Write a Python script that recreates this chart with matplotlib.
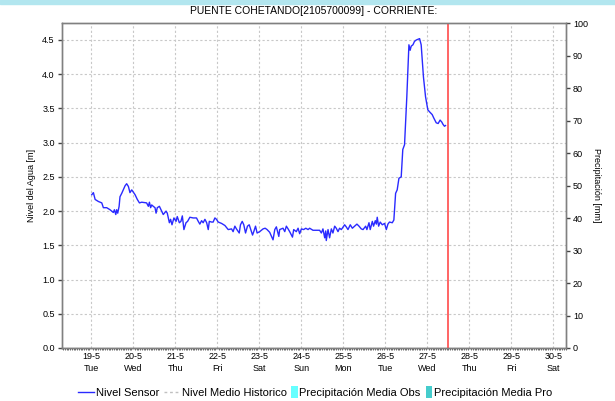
import matplotlib
matplotlib.use("Agg")
import matplotlib.pyplot as plt
import matplotlib.dates as mdates
import pandas as pd
from matplotlib.lines import Line2D
from matplotlib.patches import Patch, Rectangle
from matplotlib.legend_handler import HandlerPatch
from matplotlib.ticker import FuncFormatter

plt.rcParams["font.family"] = ["Liberation Sans", "DejaVu Sans"]

# --- data -------------------------------------------------------------
station = "PUENTE COHETANDO[2105700099] - CORRIENTE:"
start = pd.Timestamp("2020-05-19 00:00")
view_from_h = -16.8          # hours relative to 19-5 00:00
view_to_h = 271.2
now_h = 203.7                # current-time marker

sensor_hours = [
    0.4, 1.3, 2.3, 4.2, 6.1, 7.0, 8.9, 10.8, 12.7, 13.3, 14.1, 14.6, 15.2, 16.0,
    16.5, 17.5, 19.4, 20.3, 21.3, 22.2, 23.2, 25.1, 26.4, 27.6, 28.9, 31.7, 32.7,
    33.3, 34.0, 34.6, 35.5, 36.5, 37.1, 37.8, 39.0, 40.3, 41.2, 42.8, 43.5, 44.7,
    45.4, 46.2, 47.3, 48.5, 49.2, 50.4, 51.3, 52.1, 53.0, 54.2, 55.1, 56.4, 58.3,
    60.2, 61.2, 62.1, 63.1, 64.0, 65.0, 66.0, 66.9, 67.5, 68.8, 69.7, 70.7, 71.6,
    72.6, 74.5, 76.4, 78.3, 80.2, 81.1, 82.1, 83.0, 84.6, 85.3, 86.3, 87.2, 88.2,
    89.3, 90.3, 91.2, 92.2, 92.9, 93.9, 94.8, 96.3, 98.2, 99.4, 100.5, 102.0,
    103.0, 103.9, 104.9, 105.8, 107.2, 107.7, 109.6, 110.6, 111.5, 112.5, 113.4,
    115.0, 115.7, 117.2, 118.2, 119.1, 120.1, 121.4, 122.6, 123.9, 124.8, 126.7,
    128.6, 130.5, 131.5, 132.4, 133.4, 134.0, 134.3, 135.3, 136.2, 137.2, 138.1,
    139.1, 140.0, 141.0, 141.9, 142.9, 144.8, 145.7, 146.7, 148.0, 149.2, 150.5,
    151.8, 153.0, 154.3, 155.3, 156.8, 157.5, 158.7, 159.4, 160.6, 161.3, 162.3,
    162.9, 163.4, 164.2, 165.1, 166.3, 167.6, 168.6, 169.5, 170.4, 172.0, 172.9,
    173.9, 174.8, 175.8, 177.1, 178.0, 179.0, 179.6, 180.3, 180.9, 181.5, 182.2,
    182.8, 183.8, 184.7, 185.7, 186.6, 187.6, 188.5, 189.1, 189.8, 191.0, 192.3,
    193.3, 194.8, 195.7, 197.1, 198.2, 199.3, 200.3, 200.9, 201.8, 202.4,
]
sensor_level = [
    2.24, 2.27, 2.17, 2.14, 2.12, 2.05, 2.05, 2.02, 1.98, 2.02, 1.95, 2.02, 1.97, 2.07,
    2.21, 2.26, 2.37, 2.40, 2.36, 2.27, 2.31, 2.24, 2.17, 2.12, 2.13, 2.12, 2.07,
    2.13, 2.05, 2.09, 2.07, 2.05, 1.97, 2.05, 2.07, 2.00, 1.95, 2.00, 1.97, 1.83,
    1.88, 1.80, 1.90, 1.85, 1.92, 1.83, 1.85, 1.93, 1.73, 1.83, 1.85, 1.91, 1.90,
    1.90, 1.85, 1.81, 1.86, 1.83, 1.88, 1.83, 1.73, 1.85, 1.84, 1.84, 1.90, 1.88,
    1.84, 1.82, 1.79, 1.73, 1.74, 1.70, 1.78, 1.74, 1.68, 1.80, 1.85, 1.80, 1.68,
    1.78, 1.80, 1.73, 1.65, 1.70, 1.78, 1.68, 1.70, 1.74, 1.75, 1.73, 1.69,
    1.63, 1.58, 1.73, 1.77, 1.63, 1.73, 1.75, 1.70, 1.78, 1.74, 1.70,
    1.62, 1.73, 1.70, 1.75, 1.67, 1.74, 1.73, 1.75, 1.73, 1.75, 1.72,
    1.72, 1.72, 1.68, 1.74, 1.61, 1.71, 1.57, 1.73, 1.61, 1.74, 1.68,
    1.78, 1.75, 1.70, 1.75, 1.73, 1.80, 1.77, 1.73, 1.80, 1.75, 1.78,
    1.81, 1.78, 1.74, 1.73, 1.78, 1.73, 1.83, 1.73, 1.85, 1.78, 1.86,
    1.81, 1.91, 1.78, 1.84, 1.80, 1.82, 1.73, 1.81, 1.84, 1.83, 1.87,
    2.26, 2.31, 2.48, 2.50, 2.90, 2.97, 3.29, 3.67, 4.06, 4.43, 4.35,
    4.41, 4.43, 4.48, 4.50, 4.51, 4.52, 4.43, 4.21, 3.96, 3.67, 3.48,
    3.45, 3.41, 3.36, 3.29, 3.28, 3.33, 3.30, 3.27, 3.24, 3.25,
]
level_ticks = [0.0, 0.5, 1.0, 1.5, 2.0, 2.5, 3.0, 3.5, 4.0, 4.5]
precip_ticks = list(range(0, 101, 10))
legend_labels = ["Nivel Sensor", "Nivel Medio Historico",
                 "Precipitación Media Obs", "Precipitación Media Pro"]

# --- figure -----------------------------------------------------------
fig = plt.figure(figsize=(6.15, 4.01), dpi=100)
fig.subplots_adjust(left=0.1003, right=0.9203, bottom=0.1322, top=0.9419)
ax = fig.add_subplot(111)
ax2 = ax.twinx()

# light header strip along the top edge
fig.patches.append(Rectangle((0, 1 - 3.5 / 401), 1, 3.5 / 401,
                             transform=fig.transFigure, color="#b2e6ef",
                             zorder=0))

t = start + pd.to_timedelta(sensor_hours, unit="h")
ax.plot(t, sensor_level, color="#2a2aff", lw=1.0, zorder=3)
ax.axvline(start + pd.Timedelta(hours=now_h), color="#ff3b3b", lw=1.1,
           zorder=4)

ax.set_xlim(start + pd.Timedelta(hours=view_from_h),
            start + pd.Timedelta(hours=view_to_h))
ax.set_ylim(0, 4.744)
ax2.set_ylim(0, 100)

ax.set_yticks(level_ticks)
ax.set_yticklabels([f"{v:.1f}" for v in level_ticks])
ax2.set_yticks(precip_ticks)

ax.xaxis.set_major_locator(mdates.DayLocator())
ax.xaxis.set_minor_locator(mdates.HourLocator(byhour=range(0, 24, 1)))


def day_label(x, pos):
    d = mdates.num2date(x)
    return f"{d.day}-{d.month}\n{d.strftime('%a')}"


ax.xaxis.set_major_formatter(FuncFormatter(day_label))

grid_kw = dict(color="#c8c8c8", linestyle=(0, (2, 2)), lw=0.8)
ax.grid(True, which="major", **grid_kw)
ax.set_axisbelow(True)

for a in (ax, ax2):
    for s in a.spines.values():
        s.set_color("#808080")
        s.set_linewidth(1.0)
ax.spines["bottom"].set_color("#555555")

ax.tick_params(axis="y", length=3, width=1, color="#444444", labelsize=6.5,
               pad=2)
ax2.tick_params(axis="y", length=3, width=1, color="#444444", labelsize=6.5,
                pad=2)
ax.tick_params(axis="x", which="major", length=0, labelsize=6.5, pad=3)
ax.tick_params(axis="x", which="minor", length=1.3, width=0.6,
               color="#555555")
for lbl in ax.get_xticklabels():
    lbl.set_linespacing(1.35)

ax.set_ylabel("Nivel del Agua [m]", fontsize=6.5)
ax.yaxis.label.set_va("center")
ax.yaxis.set_label_coords(-0.059, 0.5)
ax2.set_ylabel("Precipitación [mm]", fontsize=6.5, rotation=270)
ax2.yaxis.label.set_va("center")
ax2.yaxis.set_label_coords(1.0615, 0.5)

fig.text(0.5107, 1 - 11.5 / 401, station, ha="center", va="center",
         fontsize=7.5)


# legend: two lines and two narrow precipitation swatches
def tall_patch(legend, orig_handle, xdescent, ydescent, width, height,
               fontsize):
    extra = height * 0.3
    return Rectangle((-xdescent, -ydescent - extra), width, height + 2 * extra)


line_handles = [
    Line2D([], [], color="#2a2aff", lw=1.0),
    Line2D([], [], color="#c0c0c0", lw=1.0, linestyle=(0, (2, 2))),
]
patch_handles = [
    Patch(facecolor="#66ffff", edgecolor="none"),
    Patch(facecolor="#45cccc", edgecolor="none"),
]
leg_kw = dict(frameon=False, ncol=2, fontsize=8, borderpad=0,
              borderaxespad=0, handletextpad=0.15, columnspacing=0.45)
leg1 = fig.legend(line_handles, legend_labels[:2], loc="center right",
                  bbox_to_anchor=(287 / 615, 1 - 393 / 401),
                  handlelength=1.45, **leg_kw)
leg2 = fig.legend(patch_handles, legend_labels[2:], loc="center left",
                  bbox_to_anchor=(291 / 615, 1 - 393 / 401),
                  handlelength=0.6,
                  handler_map={Patch: HandlerPatch(patch_func=tall_patch)},
                  **leg_kw)

fig.savefig("out.png", dpi=100)
